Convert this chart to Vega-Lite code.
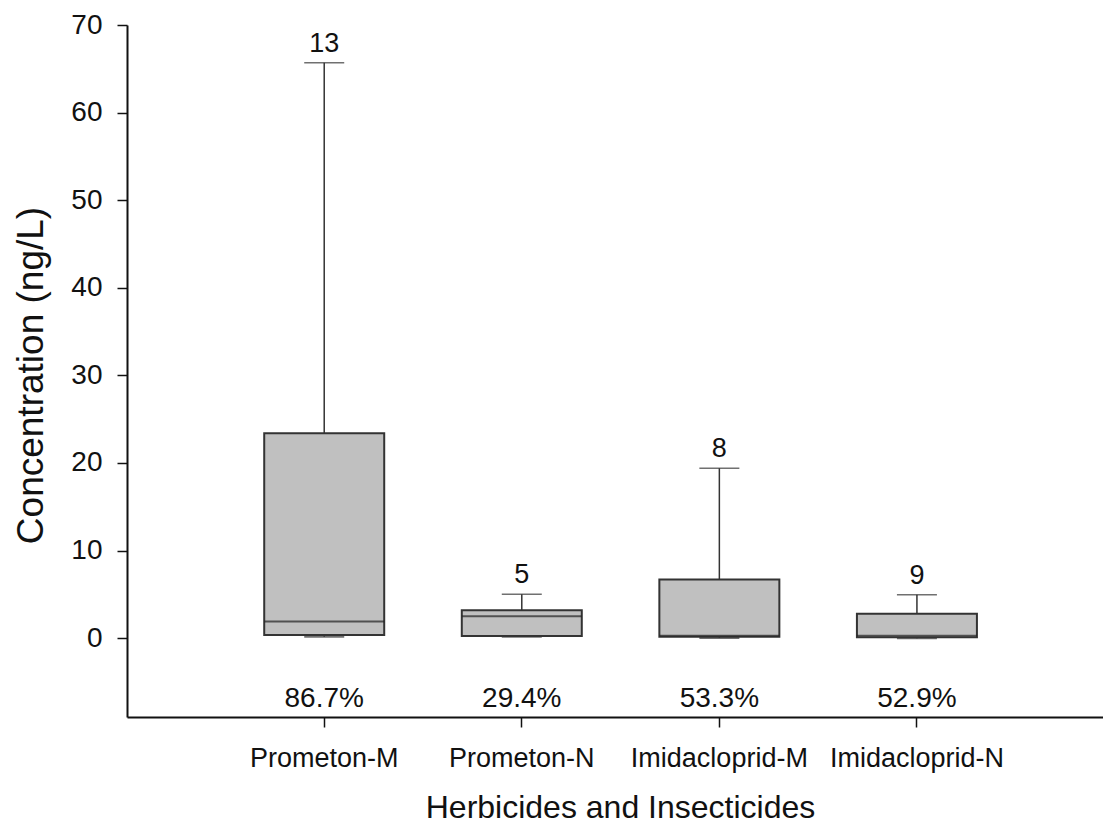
{
  "$schema": "https://vega.github.io/schema/vega-lite/v6.json",
  "width": 976,
  "height": 692,
  "autosize": {"type": "none"},
  "padding": {"left": 127, "top": 25, "right": 0, "bottom": 113},
  "background": "white",
  "config": {
    "view": {"stroke": null},
    "font": "Liberation Sans",
    "axis": {"grid": false, "domainColor": "#111", "domainWidth": 2, "tickColor": "#111", "tickWidth": 1.5, "tickSize": 10, "labelColor": "#111", "titleColor": "#111", "labelFont": "Liberation Sans", "titleFont": "Liberation Sans", "titleFontWeight": "normal"}
  },
  "data": {
    "values": [
      {"cat": "Prometon-M", "lower": 0.15, "q1": 0.35, "median": 1.9, "q3": 23.4, "upper": 65.7, "n": "13", "pct": "86.7%"},
      {"cat": "Prometon-N", "lower": 0.15, "q1": 0.25, "median": 2.5, "q3": 3.2, "upper": 5.0, "n": "5", "pct": "29.4%"},
      {"cat": "Imidacloprid-M", "lower": 0.03, "q1": 0.15, "median": 0.3, "q3": 6.7, "upper": 19.4, "n": "8", "pct": "53.3%"},
      {"cat": "Imidacloprid-N", "lower": 0.0, "q1": 0.1, "median": 0.3, "q3": 2.8, "upper": 4.95, "n": "9", "pct": "52.9%"}
    ]
  },
  "encoding": {
    "x": {
      "field": "cat", "type": "nominal", "sort": null,
      "scale": {"paddingInner": 0, "paddingOuter": 0.47, "align": 0.53},
      "axis": {"labelAngle": 0, "labelFontSize": 27, "labelPadding": 18, "labelLimit": 400, "labelOverlap": false, "title": "Herbicides and Insecticides", "titleFontSize": 32, "titleY": 100, "titleX": 493, "titleBaseline": "alphabetic", "titleAnchor": null}
    }
  },
  "layer": [
    {
      "mark": {"type": "rule", "color": "#333", "strokeWidth": 1.5},
      "encoding": {
        "y": {"field": "q3", "type": "quantitative", "scale": {"domain": [-9, 70], "nice": false, "zero": false},
          "axis": {"values": [0, 10, 20, 30, 40, 50, 60, 70], "labelFontSize": 28, "labelPadding": 15, "title": "Concentration (ng/L)", "titleFontSize": 37, "titleX": -85, "titleY": 350, "titleBaseline": "alphabetic", "titleAngle": -90, "titleAlign": "center", "titleAnchor": null}},
        "y2": {"field": "upper"}
      }
    },
    {
      "mark": {"type": "rule", "color": "#333", "strokeWidth": 1.5},
      "encoding": {
        "y": {"field": "lower", "type": "quantitative"},
        "y2": {"field": "q1"}
      }
    },
    {
      "mark": {"type": "bar", "size": 120, "fill": "#c0c0c0", "stroke": "#333", "strokeWidth": 2},
      "encoding": {
        "y": {"field": "q1", "type": "quantitative"},
        "y2": {"field": "q3"}
      }
    },
    {
      "mark": {"type": "tick", "size": 120, "thickness": 1.8, "color": "#222"},
      "encoding": {"y": {"field": "median", "type": "quantitative"}}
    },
    {
      "mark": {"type": "tick", "size": 40, "thickness": 1.5, "color": "#333"},
      "encoding": {"y": {"field": "upper", "type": "quantitative"}}
    },
    {
      "mark": {"type": "tick", "size": 40, "thickness": 2, "color": "#333"},
      "encoding": {"y": {"field": "lower", "type": "quantitative"}}
    },
    {
      "mark": {"type": "text", "fontSize": 27, "baseline": "alphabetic", "dy": -11, "color": "#111"},
      "encoding": {
        "y": {"field": "upper", "type": "quantitative"},
        "text": {"field": "n"}
      }
    },
    {
      "mark": {"type": "text", "fontSize": 28, "baseline": "alphabetic", "color": "#111"},
      "encoding": {
        "y": {"datum": -7.85, "type": "quantitative"},
        "text": {"field": "pct"}
      }
    }
  ]
}
